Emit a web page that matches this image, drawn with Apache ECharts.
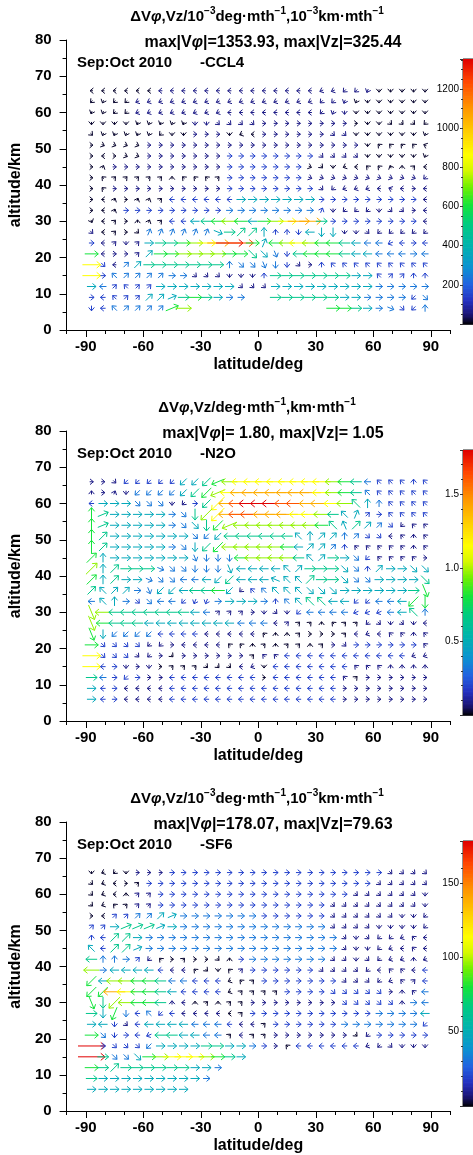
<!DOCTYPE html>
<html><head><meta charset="utf-8">
<script src="https://cdn.jsdelivr.net/npm/echarts@6/dist/echarts.min.js"></script>
<style>html,body{margin:0;padding:0;background:#fff}#c{width:473px;height:1155px}</style>
</head><body><div id="c"></div>
<script>
const lats = [-87,-81,-75,-69,-63,-57,-51,-45,-39,-33,-27,-21,-15,-9,-3,3,9,15,21,27,33,39,45,51,57,63,69,75,81,87];
const alts = [66,63,60,57,54,51,48,45,42,39,36,33,30,27,24,21,18,15,12,9,6];
const xTicks = [-90,-60,-30,0,30,60,90];
const xMinorTicks = [-100,-90,-80,-70,-60,-50,-40,-30,-20,-10,0,10,20,30,40,50,60,70,80,90,100];
// direction codes: hex digit = 22.5deg steps counter-clockwise from east; '.' = no vector
// magnitude codes: fraction of the panel maximum
const magLevel = {'0':0.015,'1':0.05,'2':0.11,'3':0.18,'4':0.27,'5':0.36,'6':0.45,'7':0.54,'8':0.64,'9':0.78,'a':0.9,'b':1.0};

const ccl4Dir = [
"88888 88888 88888 88888 99aab ccccc",
"abaa9 99999 99999 99999 aabbc ccccc",
"bbaa9 99999 99888 88888 abccc ccccc",
"ccccb bbbbc ceeee 00000 0000c ceeea",
"ebbbb bacc0 00c98 00000 0eecc ccccb",
"0ffff 00000 00000 00000 0000c 66667",
"080ff 00000 00000 00000 eeeec ccccb",
"03000 00000 00000 0000f ec986 65428",
"06222 22466 62000 0000f fffff ffffa",
"06000 00000 00000 00000 ea999 87808",
"08303 32888 88800 00000 00000 00008",
"08300 00000 00000 00000 3caaa cee08",
"d8204 32888 88888 00000 00000 00008",
"e820e 33333 3f022 444c8 cccce aaaaa",
"082c2 00000 00000 38888 88888 89808",
"08002 20000 0000e edc88 88888 88808",
"0e822 00000 004ee dcce0 46666 66666",
"00622 2200e eeccc 40000 00000 62244",
"08262 20000 000ee e0000 00000 00000",
"08622 22100 0000. .0000 00000 000ae",
"c8622 2210. ..... ..... .0000 0fea4"];
const ccl4Mag = [
"00000 01111 11111 11111 11111 00000",
"00001 11111 11111 11111 11100 00000",
"00001 11111 11111 11111 11100 00000",
"00000 00001 11111 11111 11100 00000",
"00000 00001 11000 11111 11100 00000",
"00000 11111 11111 11111 11110 00000",
"00000 11111 11222 22222 11110 00000",
"00111 11111 11222 22220 00000 00000",
"00000 00000 00222 22221 11111 11111",
"00111 11111 11222 22222 11111 11111",
"00000 00222 22244 44444 22222 22221",
"00022 22222 22333 33333 21111 11111",
"00000 00224 56764 67899 52222 22221",
"10000 33333 34555 42224 44111 11111",
"21111 45567 89ba6 46787 66543 32222",
"61111 46677 77665 43256 66544 33333",
"82134 55555 55333 33211 22222 22222",
"82333 33331 11111 25555 55544 22222",
"43222 24444 44411 14444 44444 33333",
"22222 44456 54330 05555 55443 33323",
"22333 33670 00000 00000 06654 33223"];

const n2oDir = [
"00eaa aaaaa a9888 88888 88888 66646",
"403ca aaaaa a9888 88888 88886 66666",
"8000e eeca0 aa888 88888 88864 46666",
"41000 000ec aa888 88888 88632 06666",
"41000 000ee ca988 88888 86522 2ea66",
"42000 0000e aa888 88864 2242e e8646",
"42000 000ec aa888 88882 22466 66646",
"24000 0000d ccc88 88886 200ea 66660",
"24200 0feec ccd88 88620 00ee4 200ee",
"24200 fee88 8aa88 87662 00eee 0000e",
"26220 daa88 88aa6 6666e ee000 0000d",
"8640e e88ab b0000 04666 688aa 888ac",
"d8888 88888 82220 ceca8 88899 98864",
"d8888 88888 88888 88222 4622a ecec8",
"dcaaa a8888 88888 64420 00289 86646",
"0eeee aa088 88664 24224 20e00 00006",
"0eeee a0e00 00002 66888 88888 88899",
"080c0 c0222 eee89 c8888 88866 64444",
"080a0 00888 88888 08888 88620 00000",
"08088 88888 88888 88888 88000 00000",
"08088 88888 88888 88888 88000 00000"];
const n2oMag = [
"11122 22244 56788 88888 87653 22222",
"11113 33345 67899 99999 87653 22222",
"24443 33112 589ab bbaa9 98754 32222",
"65444 44335 789aa 99988 75442 22222",
"65444 44334 56777 77777 65454 32111",
"65444 44443 34555 55544 44332 21111",
"65444 44334 56777 77644 43211 11111",
"64444 44443 33367 77754 45432 11111",
"74555 53333 33444 44445 55432 44444",
"64544 33333 44544 44445 55433 44445",
"54443 34445 56412 34444 44444 44456",
"34432 33322 23444 32345 54422 33466",
"77555 55554 31111 11123 33322 23453",
"76555 44444 44433 31100 00001 11111",
"64333 32222 11111 00000 00011 11111",
"62222 11111 11000 00000 01122 22221",
"82221 11011 11110 11222 22222 22211",
"82211 10000 00011 02222 22211 11111",
"53222 11222 22222 02222 22101 11111",
"42211 11222 22222 22222 22111 11111",
"42211 11222 22222 22222 22111 11111"];

const sf6Dir = [
"c9ac0 00000 00000 00000 00000 0eeee",
"e9802 00000 00000 00000 00000 eeeee",
"e9842 20000 00000 00000 000ee eeeec",
"e9622 20000 00000 00000 0eeee eeeec",
"08222 22100 00000 00000 0eeee eecca",
"22011 11000 00000 00000 0eeee cccca",
"48220 00000 00000 00000 00ece aa968",
"68221 00000 00000 00000 00ecc a9868",
"84402 a6020 0e400 00000 0eece a9949",
"80888 88886 ec620 00000 eeeea 86688",
"a8888 88888 88962 00000 00eee a9628",
"aa888 88888 88922 22000 0eeee e0468",
"dca88 88484 24220 00000 00eee ee408",
"0cbc8 6a888 88820 00000 00000 00008",
"08ce8 88888 88888 20000 00000 0000a",
"0ec08 98888 88282 20000 000ea 00000",
"00eee a0000 00000 00688 88889 aeccc",
"00eee 00000 0000. ..... ..... .....",
"00200 00000 00... ..... ..... .....",
"00000 00000 0.... ..... ..... .....",
"00000 0000. ..... ..... ..... ....."];
const sf6Mag = [
"00001 11222 22222 22222 22222 21111",
"00000 22222 22222 22222 22222 11111",
"00001 12222 22222 22222 22211 11111",
"00001 12222 22222 22222 21111 11111",
"00223 34433 33333 22222 21111 11111",
"22455 54433 33333 33333 31111 11111",
"22554 33333 33333 33333 33111 11111",
"42554 33333 33333 33333 33111 11111",
"53332 10000 00023 33333 31111 11111",
"73444 42110 00012 22222 11111 11112",
"64776 65332 22000 22222 22111 11112",
"66986 65422 22000 00222 22222 21113",
"65776 65110 00001 11111 11222 22133",
"54632 32211 11002 22222 22222 33334",
"44212 44443 33211 02222 22333 33332",
"63222 25544 33010 01111 11101 22222",
"b2222 34444 55443 21022 22221 11111",
"b5334 67888 76540 00000 00000 00000",
"65555 55554 43000 00000 00000 00000",
"54444 44444 30000 00000 00000 00000",
"44444 44440 00000 00000 00000 00000"];

const maxValues = [1353.93, 1.80, 178.07];
const barSteps = [200, 0.5, 50];
const barMinor = [4, 5, 5];
const speciesNames = ['-CCL4', '-N2O', '-SF6'];
const unitTitles = [
  '{n|ΔV}{it|φ}{n|,Vz/10}{sup|−3}{n|deg·mth}{sup|−1}{n|,10}{sup|−3}{n|km·mth}{sup|−1}',
  '{n|ΔV}{it|φ}{n|,Vz/deg·mth}{sup|−1}{n|,km·mth}{sup|−1}',
  '{n|ΔV}{it|φ}{n|,Vz/10}{sup|−3}{n|deg·mth}{sup|−1}{n|,10}{sup|−3}{n|km·mth}{sup|−1}'];
const maxTitles = [
  '{m|max|V}{it2|φ}{m||=1353.93, max|Vz|=325.44}',
  '{m|max|V}{it2|φ}{m||= 1.80, max|Vz|= 1.05}',
  '{m|max|V}{it2|φ}{m||=178.07, max|Vz|=79.63}'];

const FONT = '"Liberation Sans", Arial, Helvetica, sans-serif';
const stops = [[0,'#000000'],[0.035,'#1a1370'],[0.09,'#2430c0'],[0.15,'#2262e0'],[0.22,'#0c94d0'],[0.30,'#00b4ac'],[0.38,'#00cc80'],[0.45,'#14e43c'],[0.52,'#70f000'],[0.58,'#d4f800'],[0.64,'#ffff00'],[0.72,'#ffd200'],[0.82,'#ff9400'],[0.92,'#ff4400'],[1,'#e00000']];
function hex(c){return [parseInt(c.slice(1,3),16),parseInt(c.slice(3,5),16),parseInt(c.slice(5,7),16)];}
function sample(t){
  for(let i=1;i<stops.length;i++){
    if(t<=stops[i][0]){
      const a=stops[i-1],b=stops[i];const u=(t-a[0])/(b[0]-a[0]);
      const ca=hex(a[1]),cb=hex(b[1]);
      return 'rgb('+ca.map((v,k)=>Math.round(v+(cb[k]-v)*u)).join(',')+')';
    }
  }
  return stops[stops.length-1][1];
}
const cmap=[];for(let i=0;i<=100;i++)cmap.push(sample(i/100));

function buildData(dirRows, magRows, maxV){
  const out=[];
  for(let j=0;j<alts.length;j++){
    const d=dirRows[j].replace(/ /g,''), m=magRows[j].replace(/ /g,'');
    for(let i=0;i<lats.length;i++){
      const dc=d[i]; if(!dc||dc==='.')continue;
      const f=magLevel[m[i]]!==undefined?magLevel[m[i]]:0.02;
      out.push([lats[i],alts[j],f*maxV,parseInt(dc,16)*22.5]);
    }
  }
  return out;
}
function arrowRenderer(maxV){
  return function(params, api){
    const c=api.coord([api.value(0),api.value(1)]);
    const f=api.value(2)/maxV, ang=api.value(3)*Math.PI/180;
    const L=2.5+24.5*f;
    const ux=Math.cos(ang), uy=-Math.sin(ang);
    const x0=c[0]-ux*L/2, y0=c[1]-uy*L/2, x1=c[0]+ux*L/2, y1=c[1]+uy*L/2;
    const h=4.2+0.05*L, a=40*Math.PI/180, ca=Math.cos(a), sa=Math.sin(a);
    const bx=-ux, by=-uy;
    const p1=[x1+h*(bx*ca-by*sa), y1+h*(bx*sa+by*ca)];
    const p2=[x1+h*(bx*ca+by*sa), y1+h*(-bx*sa+by*ca)];
    const col=api.visual('color');
    return {type:'group',children:[
      {type:'line',shape:{x1:x0,y1:y0,x2:x1,y2:y1},style:{stroke:col,lineWidth:1}},
      {type:'polyline',shape:{points:[p1,[x1,y1],p2]},style:{stroke:col,lineWidth:1,fill:null}}
    ]};
  };
}
function barRender(params, api){
  const p0=api.coord([0,api.value(1)]), p1=api.coord([1,api.value(3)]);
  return {type:'rect',shape:{x:p0[0],y:p1[1],width:p1[0]-p0[0],height:p0[1]-p1[1]+0.7},style:{fill:api.visual('color')}};
}

const dirs=[ccl4Dir,n2oDir,sf6Dir], mags=[ccl4Mag,n2oMag,sf6Mag];
const option={animation:false,textStyle:{fontFamily:FONT},grid:[],xAxis:[],yAxis:[],series:[],visualMap:[],graphic:[]};
const axisStyle={color:'#000',width:1};
for(let k=0;k<3;k++){
  const oy=391*k, maxV=maxValues[k], step=barSteps[k];
  option.grid.push({left:65,top:40+oy,width:385,height:290});
  option.grid.push({left:463,top:59+oy,width:14,height:265,show:true,borderColor:'#222',borderWidth:1,backgroundColor:'transparent'});
  option.xAxis.push({gridIndex:2*k,type:'value',min:-100,max:100,position:'bottom',
    name:'latitude/deg',nameLocation:'middle',nameGap:27,nameTextStyle:{fontWeight:'bold',fontSize:16,color:'#000',fontFamily:FONT},
    axisLine:{show:true,onZero:false,lineStyle:axisStyle},
    axisTick:{show:true,customValues:xTicks,length:7,lineStyle:axisStyle},
    axisLabel:{customValues:xTicks,fontWeight:'bold',fontSize:15,color:'#000',margin:9,fontFamily:FONT},
    splitLine:{show:false}});
  option.xAxis.push({gridIndex:2*k,type:'value',min:-100,max:100,position:'bottom',
    axisLine:{show:false,onZero:false},axisTick:{show:true,customValues:xMinorTicks,length:4,lineStyle:axisStyle},
    axisLabel:{show:false},splitLine:{show:false}});
  option.xAxis.push({gridIndex:2*k+1,type:'value',min:0,max:1,show:false});
  option.yAxis.push({gridIndex:2*k,type:'value',min:0,max:80,interval:10,
    name:'altitude/km',nameLocation:'middle',nameGap:40,nameRotate:90,nameTextStyle:{fontWeight:'bold',fontSize:16,color:'#000',fontFamily:FONT},
    axisLine:{show:true,onZero:false,lineStyle:axisStyle},
    axisTick:{show:true,length:7,lineStyle:axisStyle},
    minorTick:{show:true,splitNumber:2,length:4,lineStyle:axisStyle},
    axisLabel:{fontWeight:'bold',fontSize:15,color:'#000',margin:15,fontFamily:FONT},
    splitLine:{show:false},minorSplitLine:{show:false}});
  option.yAxis.push({gridIndex:2*k+1,type:'value',min:0,max:maxV,interval:step,position:'left',
    axisLine:{show:false,onZero:false},axisTick:{show:true,length:3,lineStyle:{color:'#333'}},
    minorTick:{show:true,splitNumber:barMinor[k],length:2,lineStyle:{color:'#333'}},
    axisLabel:{fontSize:10,color:'#000',margin:4,fontFamily:FONT,showMaxLabel:true,
      formatter:(v)=>{const r=v/step; if(v<=0||Math.abs(r-Math.round(r))>1e-6)return ''; return k===1?v.toFixed(1):String(Math.round(v));}},
    splitLine:{show:false},minorSplitLine:{show:false}});
  option.series.push({type:'custom',name:speciesNames[k],xAxisIndex:3*k,yAxisIndex:2*k,
    data:buildData(dirs[k],mags[k],maxV),encode:{x:0,y:1},renderItem:arrowRenderer(maxV),clip:false,silent:true});
  const bar=[];const N=200;
  for(let i=0;i<N;i++){const lo=maxV*i/N,hi=maxV*(i+1)/N;bar.push([0,lo,(lo+hi)/2,hi]);}
  option.series.push({type:'custom',xAxisIndex:3*k+2,yAxisIndex:2*k+1,data:bar,encode:{x:0,y:1},renderItem:barRender,silent:true});
  option.visualMap.push({type:'continuous',show:false,seriesIndex:[2*k,2*k+1],dimension:2,min:0,max:maxV,inRange:{color:cmap}});
  const rich={
    n:{fontSize:15,fontWeight:'bold',fontFamily:FONT,lineHeight:22,fill:'#000'},
    it:{fontSize:15,fontWeight:'bold',fontStyle:'italic',fontFamily:FONT,lineHeight:22,fill:'#000'},
    sup:{fontSize:10,fontWeight:'bold',fontFamily:FONT,verticalAlign:'top',fill:'#000'},
    m:{fontSize:16,fontWeight:'bold',fontFamily:FONT,fill:'#000'},
    it2:{fontSize:16,fontWeight:'bold',fontStyle:'italic',fontFamily:FONT,fill:'#000'}
  };
  option.graphic.push({type:'text',x:257,y:17+oy,style:{text:unitTitles[k],rich:rich,align:'center',verticalAlign:'middle',fill:'#000'}});
  option.graphic.push({type:'text',x:273,y:43+oy,style:{text:maxTitles[k],rich:rich,align:'center',verticalAlign:'middle',fill:'#000'}});
  option.graphic.push({type:'text',x:77,y:63+oy,style:{text:'Sep:Oct 2010',font:'bold 15px '+FONT,align:'left',verticalAlign:'middle',fill:'#000'}});
  option.graphic.push({type:'text',x:200,y:63+oy,style:{text:speciesNames[k],font:'bold 15px '+FONT,align:'left',verticalAlign:'middle',fill:'#000'}});
}
const chart=echarts.init(document.getElementById('c'),null,{renderer:'canvas'});
chart.setOption(option);
</script></body></html>
